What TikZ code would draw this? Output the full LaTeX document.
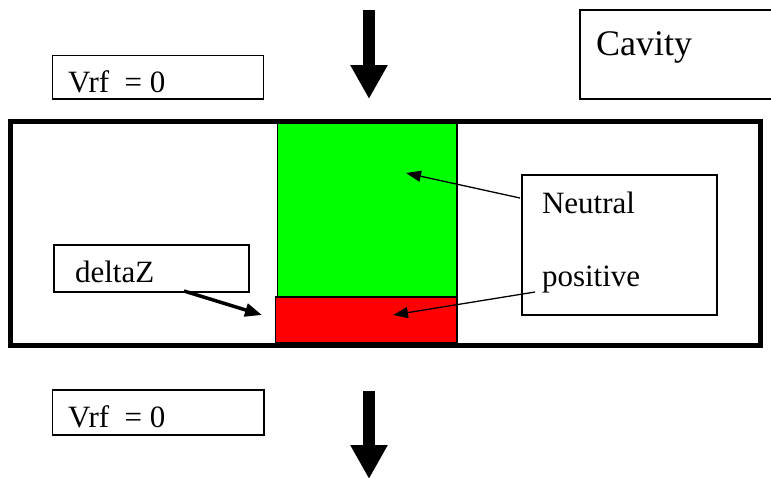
\documentclass[tikz,border=0pt]{standalone}
\usepackage{fontspec}
\setmainfont{Liberation Serif}
\usetikzlibrary{arrows.meta}
\begin{document}
\begin{tikzpicture}[x=1pt,y=-1pt,
  every node/.style={outer sep=0pt},
  thinbox/.style={draw, line width=1.2pt, fill=white, inner sep=0pt, anchor=north west},
  lbl/.style={anchor=base west, inner sep=0pt, font=\fontsize{31}{37}\selectfont},
  ptr/.style={line width=1.3pt, -{Triangle[length=15pt,width=11pt]}},
  thickptr/.style={line width=3.5pt, -{Triangle[length=17pt,width=13pt]}},
  bigarrow/.style={line width=12pt, -{Triangle[length=34pt,width=35pt]}}]
\useasboundingbox (0,0) rectangle (771,477);
% layers
\node[draw, line width=1.3pt, fill={rgb,255:red,0;green,255;blue,0}, inner sep=0pt, anchor=north west,
      minimum width=179.5pt, minimum height=175pt] (green) at (277.5,122) {};
\node[draw, line width=1.3pt, fill={rgb,255:red,255;green,0;blue,0}, inner sep=0pt, anchor=north west,
      minimum width=181.5pt, minimum height=46pt] (red) at (275.5,297) {};
% cavity outline
\node[draw, line width=5pt, inner sep=0pt, anchor=north west,
      minimum width=750pt, minimum height=224pt] (outer) at (10,121) {};
% boxes
\node[thinbox, minimum width=211pt, minimum height=43.5pt] (vrftop) at (52.5,55.5) {};
\node[thinbox, minimum width=195pt, minimum height=89pt] (cavity) at (580,10) {};
\node[thinbox, minimum width=195pt, minimum height=140pt] (neutral) at (522,175) {};
\node[thinbox, minimum width=195pt, minimum height=47pt] (deltaz) at (54,245) {};
\node[thinbox, minimum width=211.5pt, minimum height=45pt] (vrfbot) at (52.5,390) {};
% texts
\node[lbl] (tvrftop) at (68,92) {Vrf~ = 0};
\node[lbl, font=\fontsize{36}{42}\selectfont] (tcavity) at (596,55) {Cavity};
\node[lbl] (tneutral) at (542,213) {Neutral};
\node[lbl] (tpositive) at (542,286) {positive};
\node[lbl] (tdeltaz) at (75,282) {deltaZ};
\node[lbl] (tvrfbot) at (68,427) {Vrf~ = 0};
% pointers
\coordinate (nstart) at (520,198);
\coordinate (ntip) at (406,173);
\coordinate (pstart) at (535,292);
\coordinate (ptip) at (393,315);
\coordinate (dstart) at (184,291);
\coordinate (dtip) at (262,315);
\draw[ptr] (nstart) -- (ntip);
\draw[ptr] (pstart) -- (ptip);
\draw[thickptr] (dstart) -- (dtip);
% beam arrows
\coordinate (a1s) at (369,10);
\coordinate (a1e) at (369,99);
\coordinate (a2s) at (369,391);
\coordinate (a2e) at (369,479);
\draw[bigarrow] (a1s) -- (a1e);
\draw[bigarrow] (a2s) -- (a2e);
\end{tikzpicture}
\end{document}
